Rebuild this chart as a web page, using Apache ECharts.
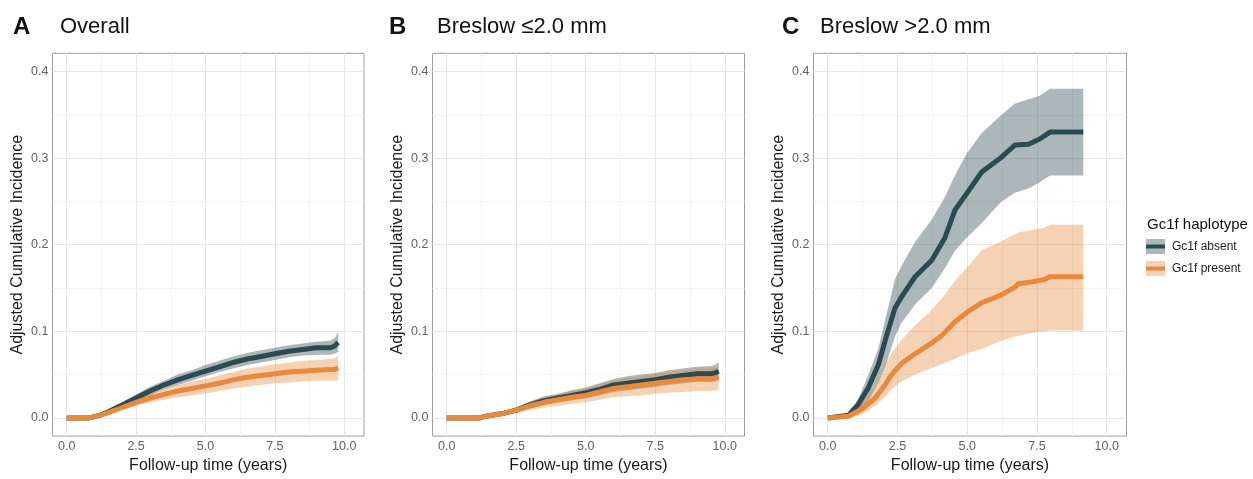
<!DOCTYPE html>
<html>
<head>
<meta charset="utf-8">
<script src="https://cdn.jsdelivr.net/npm/echarts@6/dist/echarts.min.js"></script>
<style>
  html, body { margin: 0; padding: 0; background: #fff; }
  #chart { width: 1253px; height: 479px; }
</style>
</head>
<body>
<div id="chart"></div>
<script>
// tick labels
const xTicks = [0, 2.5, 5, 7.5, 10]
const yTicks = [0, 0.1, 0.2, 0.3, 0.4]

// panel A: overall
const timeA = [0, 0.8, 1.2, 1.5, 2.0, 2.5, 3.0, 3.5, 4.0, 4.5, 5.0, 5.5, 6.0, 6.5, 7.0, 7.5, 8.0, 8.5, 9.0, 9.5, 9.65, 9.78]
const absentA = [0, 0, 0.003, 0.007, 0.015, 0.023, 0.031, 0.038, 0.044, 0.049, 0.054, 0.059, 0.064, 0.068, 0.071, 0.074, 0.077, 0.079, 0.081, 0.081, 0.083, 0.087]
const absentALow = [0, 0, 0.002, 0.005, 0.012, 0.019, 0.026, 0.033, 0.038, 0.043, 0.048, 0.053, 0.057, 0.061, 0.064, 0.067, 0.070, 0.072, 0.073, 0.073, 0.074, 0.076]
const absentAHigh = [0, 0, 0.004, 0.009, 0.018, 0.027, 0.036, 0.043, 0.050, 0.055, 0.061, 0.066, 0.071, 0.075, 0.078, 0.081, 0.084, 0.086, 0.088, 0.089, 0.092, 0.099]
const presentA = [0, 0, 0.003, 0.006, 0.012, 0.018, 0.023, 0.027, 0.031, 0.034, 0.037, 0.040, 0.044, 0.047, 0.049, 0.051, 0.053, 0.054, 0.055, 0.056, 0.056, 0.058]
const presentALow = [0, 0, 0.002, 0.004, 0.009, 0.014, 0.018, 0.021, 0.024, 0.026, 0.028, 0.031, 0.034, 0.036, 0.038, 0.040, 0.041, 0.042, 0.043, 0.043, 0.043, 0.043]
const presentAHigh = [0, 0, 0.004, 0.008, 0.015, 0.022, 0.028, 0.033, 0.038, 0.042, 0.045, 0.049, 0.053, 0.057, 0.059, 0.062, 0.064, 0.066, 0.067, 0.068, 0.069, 0.072]

// panel B: breslow <= 2.0 mm
const timeB = [0, 0.8, 1.2, 1.4, 2.0, 2.5, 3.0, 3.5, 4.0, 4.5, 5.0, 5.5, 6.0, 6.5, 7.0, 7.5, 8.0, 8.5, 9.0, 9.5, 9.65, 9.78]
const absentB = [0, 0, 0, 0.002, 0.005, 0.009, 0.015, 0.020, 0.023, 0.026, 0.029, 0.033, 0.038, 0.040, 0.042, 0.044, 0.047, 0.049, 0.051, 0.051, 0.052, 0.054]
const absentBLow = [0, 0, 0, 0.001, 0.003, 0.006, 0.011, 0.015, 0.018, 0.020, 0.023, 0.026, 0.030, 0.032, 0.034, 0.036, 0.038, 0.040, 0.042, 0.042, 0.042, 0.044]
const absentBHigh = [0, 0, 0, 0.003, 0.007, 0.012, 0.019, 0.025, 0.028, 0.032, 0.035, 0.040, 0.045, 0.048, 0.050, 0.052, 0.055, 0.057, 0.059, 0.060, 0.061, 0.064]
const presentB = [0, 0, 0, 0.002, 0.005, 0.009, 0.014, 0.018, 0.021, 0.024, 0.026, 0.030, 0.034, 0.036, 0.038, 0.040, 0.042, 0.044, 0.045, 0.045, 0.046, 0.047]
const presentBLow = [0, 0, 0, 0.001, 0.003, 0.006, 0.009, 0.012, 0.014, 0.016, 0.018, 0.021, 0.024, 0.025, 0.026, 0.028, 0.029, 0.030, 0.031, 0.031, 0.032, 0.032]
const presentBHigh = [0, 0, 0, 0.003, 0.007, 0.012, 0.019, 0.024, 0.027, 0.031, 0.034, 0.039, 0.043, 0.046, 0.048, 0.051, 0.053, 0.055, 0.057, 0.057, 0.058, 0.060]

// panel C: breslow > 2.0 mm
const timeCAbsent = [0, 0.74, 1.1, 1.46, 1.81, 2.11, 2.41, 2.65, 3.13, 3.73, 4.2, 4.56, 4.98, 5.52, 6.23, 6.71, 7.2, 7.6, 7.97, 9.16]
const absentC = [0, 0.003, 0.016, 0.035, 0.061, 0.095, 0.127, 0.140, 0.163, 0.182, 0.208, 0.240, 0.259, 0.284, 0.301, 0.315, 0.316, 0.322, 0.330, 0.330]
const absentCLow = [0, 0, 0.007, 0.020, 0.040, 0.064, 0.094, 0.110, 0.131, 0.150, 0.173, 0.193, 0.208, 0.225, 0.250, 0.260, 0.265, 0.272, 0.280, 0.280]
const absentCHigh = [0, 0.004, 0.022, 0.050, 0.080, 0.120, 0.160, 0.176, 0.203, 0.229, 0.255, 0.280, 0.305, 0.329, 0.350, 0.363, 0.368, 0.372, 0.380, 0.380]
const timeCPresent = [0, 0.74, 1.22, 1.7, 2.05, 2.29, 2.65, 3.13, 3.61, 4.09, 4.56, 5.04, 5.52, 6.23, 6.71, 6.83, 7.31, 7.79, 7.97, 9.16]
const presentC = [0, 0.002, 0.010, 0.023, 0.038, 0.050, 0.063, 0.074, 0.084, 0.095, 0.111, 0.123, 0.133, 0.142, 0.151, 0.155, 0.157, 0.160, 0.163, 0.163]
const presentCLow = [0, 0, 0.004, 0.014, 0.024, 0.033, 0.042, 0.050, 0.056, 0.062, 0.068, 0.075, 0.080, 0.089, 0.094, 0.095, 0.098, 0.100, 0.101, 0.101]
const presentCHigh = [0, 0.004, 0.018, 0.036, 0.061, 0.075, 0.090, 0.107, 0.121, 0.138, 0.158, 0.175, 0.194, 0.204, 0.212, 0.214, 0.217, 0.220, 0.223, 0.223]

const darkColor = '#2c4a51'
const orangeColor = '#e8893c'
const darkBand = 'rgba(44,74,81,0.4)'
const orangeBand = 'rgba(232,137,60,0.38)'
const font = 'Liberation Sans, Arial, Helvetica, sans-serif'

const chart = echarts.init(document.getElementById('chart'))

const gridLefts = [52.5, 432.5, 813.5]
const gridWidths = [311.5, 312, 313]

function pairs(times, vals) {
  return times.map((t, i) => [t, vals[i]])
}

// confidence ribbon as one polygon (upper edge, then lower edge back)
function bandSeries(g, times, lo, hi, color) {
  return {
    type: 'custom', xAxisIndex: g, yAxisIndex: g, z: 2, silent: true,
    data: times.map((t, i) => [t, lo[i], hi[i]]),
    encode: { x: 0, y: [1, 2] },
    renderItem: (params, api) => {
      if (params.dataIndex !== 0) return null
      const pts = []
      for (let i = 0; i < times.length; i++) pts.push(api.coord([times[i], hi[i]]))
      for (let i = times.length - 1; i >= 0; i--) pts.push(api.coord([times[i], lo[i]]))
      return { type: 'polygon', shape: { points: pts }, style: { fill: color } }
    }
  }
}

function lineSeries(g, name, times, vals, color) {
  return {
    name: name, type: 'line', xAxisIndex: g, yAxisIndex: g,
    data: pairs(times, vals), symbol: 'none', z: 3,
    lineStyle: { color: color, width: 5, join: 'round' }
  }
}

// light ggplot style grid lines, major + minor
function gridLineSeries(g) {
  const data = []
  xTicks.forEach((v, i) => {
    data.push({ xAxis: v, lineStyle: { color: '#e6e6e6', width: 1 } })
    if (i < xTicks.length - 1) data.push({ xAxis: (v + xTicks[i + 1]) / 2, lineStyle: { color: '#f3f3f3', width: 1 } })
  })
  yTicks.forEach((v, i) => {
    data.push({ yAxis: v, lineStyle: { color: '#e6e6e6', width: 1 } })
    if (i < yTicks.length - 1) data.push({ yAxis: (v + yTicks[i + 1]) / 2, lineStyle: { color: '#f3f3f3', width: 1 } })
  })
  return {
    type: 'line', xAxisIndex: g, yAxisIndex: g, data: [], silent: true, z: 1,
    markLine: {
      silent: true, symbol: 'none', z: 1, animation: false,
      label: { show: false },
      lineStyle: { type: 'solid' },
      data: data
    }
  }
}

const grids = [0, 1, 2].map(g => ({
  left: gridLefts[g], width: gridWidths[g], top: 53.3, height: 389.4,
  show: true, borderColor: '#9d9d9d', borderWidth: 1, backgroundColor: '#fff'
}))

const xAxes = [0, 1, 2].map(g => ({
  type: 'value', gridIndex: g, min: -0.51, max: 10.71,
  name: 'Follow-up time (years)', nameLocation: 'middle', nameGap: 17,
  nameTextStyle: { fontSize: 16, color: '#1a1a1a', fontFamily: font },
  axisLine: { show: false },
  axisTick: { show: true, length: 4, customValues: xTicks, lineStyle: { color: '#666' } },
  axisLabel: { customValues: xTicks, margin: 4, fontSize: 12.5, color: '#626262', fontFamily: font,
    formatter: v => v.toFixed(1) },
  splitLine: { show: false }
}))

const yAxes = [0, 1, 2].map(g => ({
  type: 'value', gridIndex: g, min: -0.021, max: 0.421,
  name: 'Adjusted Cumulative Incidence', nameLocation: 'middle', nameGap: 27,
  nameTextStyle: { fontSize: 16, color: '#1a1a1a', fontFamily: font },
  axisLine: { show: false },
  axisTick: { show: true, length: 4, customValues: yTicks, lineStyle: { color: '#666' } },
  axisLabel: { customValues: yTicks, margin: 4, fontSize: 12.5, color: '#626262', fontFamily: font,
    formatter: v => v.toFixed(1) },
  splitLine: { show: false }
}))

const series = [
  gridLineSeries(0), gridLineSeries(1), gridLineSeries(2),
  bandSeries(0, timeA, absentALow, absentAHigh, darkBand),
  bandSeries(0, timeA, presentALow, presentAHigh, orangeBand),
  lineSeries(0, 'Gc1f absent', timeA, absentA, darkColor),
  lineSeries(0, 'Gc1f present', timeA, presentA, orangeColor),
  bandSeries(1, timeB, absentBLow, absentBHigh, darkBand),
  bandSeries(1, timeB, presentBLow, presentBHigh, orangeBand),
  lineSeries(1, 'Gc1f absent', timeB, absentB, darkColor),
  lineSeries(1, 'Gc1f present', timeB, presentB, orangeColor),
  bandSeries(2, timeCAbsent, absentCLow, absentCHigh, darkBand),
  bandSeries(2, timeCPresent, presentCLow, presentCHigh, orangeBand),
  lineSeries(2, 'Gc1f absent', timeCAbsent, absentC, darkColor),
  lineSeries(2, 'Gc1f present', timeCPresent, presentC, orangeColor)
]

const titleStyle = (text, x, bold) => ({
  type: 'text', left: x, top: bold ? 15 : 16,
  style: { text: text, font: (bold ? 'bold 24px ' : '22px ') + font, fill: '#111' }
})

chart.setOption({
  animation: false,
  backgroundColor: '#fff',
  grid: grids,
  xAxis: xAxes,
  yAxis: yAxes,
  series: series,
  graphic: [
    titleStyle('A', 13, true), titleStyle('Overall', 60, false),
    titleStyle('B', 389, true), titleStyle('Breslow ≤2.0 mm', 437, false),
    titleStyle('C', 782, true), titleStyle('Breslow >2.0 mm', 820, false),
    // legend
    { type: 'text', left: 1147, top: 217, style: { text: 'Gc1f haplotype', font: '15px ' + font, fill: '#111' } },
    { type: 'rect', shape: { x: 1146, y: 239, width: 19, height: 15 }, style: { fill: darkBand } },
    { type: 'line', shape: { x1: 1146, y1: 246.5, x2: 1165, y2: 246.5 }, style: { stroke: darkColor, lineWidth: 4 } },
    { type: 'rect', shape: { x: 1146, y: 261, width: 19, height: 15 }, style: { fill: orangeBand } },
    { type: 'line', shape: { x1: 1146, y1: 268.5, x2: 1165, y2: 268.5 }, style: { stroke: orangeColor, lineWidth: 4 } },
    { type: 'text', left: 1172, top: 241, style: { text: 'Gc1f absent', font: '12px ' + font, fill: '#222' } },
    { type: 'text', left: 1172, top: 263, style: { text: 'Gc1f present', font: '12px ' + font, fill: '#222' } }
  ]
})
</script>
</body>
</html>
